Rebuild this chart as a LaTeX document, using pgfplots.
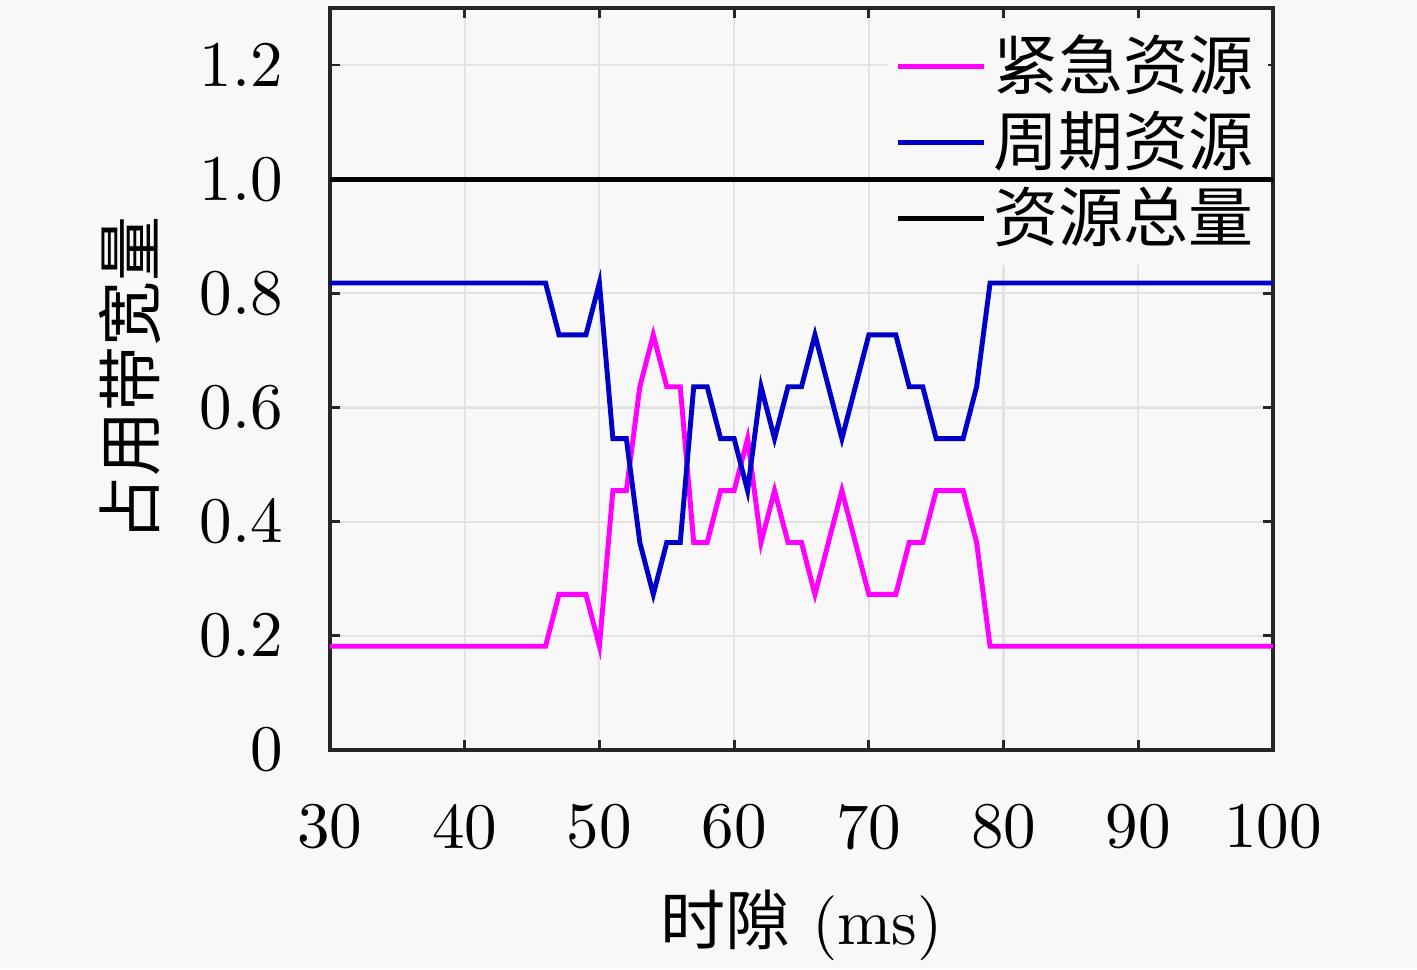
\documentclass[border=0pt]{standalone}
\usepackage{fontspec}
\usepackage{pgfplots}
\usepackage{pgfplotstable}
\pgfplotsset{compat=1.18}
\setmainfont{lmroman10-regular.otf}
\newfontfamily\cjk{Noto Sans CJK SC}
\definecolor{bg}{RGB}{248,248,248}
\definecolor{myblue}{RGB}{0,0,200}
\definecolor{mypink}{RGB}{255,0,255}
\definecolor{framec}{RGB}{38,38,38}

\pgfplotstableread{
x u p
30 0.1818 0.8182
31 0.1818 0.8182
32 0.1818 0.8182
33 0.1818 0.8182
34 0.1818 0.8182
35 0.1818 0.8182
36 0.1818 0.8182
37 0.1818 0.8182
38 0.1818 0.8182
39 0.1818 0.8182
40 0.1818 0.8182
41 0.1818 0.8182
42 0.1818 0.8182
43 0.1818 0.8182
44 0.1818 0.8182
45 0.1818 0.8182
46 0.1818 0.8182
47 0.2727 0.7273
48 0.2727 0.7273
49 0.2727 0.7273
50 0.1818 0.8182
51 0.4545 0.5455
52 0.4545 0.5455
53 0.6364 0.3636
54 0.7273 0.2727
55 0.6364 0.3636
56 0.6364 0.3636
57 0.3636 0.6364
58 0.3636 0.6364
59 0.4545 0.5455
60 0.4545 0.5455
61 0.5455 0.4545
62 0.3636 0.6364
63 0.4545 0.5455
64 0.3636 0.6364
65 0.3636 0.6364
66 0.2727 0.7273
67 0.3636 0.6364
68 0.4545 0.5455
69 0.3636 0.6364
70 0.2727 0.7273
71 0.2727 0.7273
72 0.2727 0.7273
73 0.3636 0.6364
74 0.3636 0.6364
75 0.4545 0.5455
76 0.4545 0.5455
77 0.4545 0.5455
78 0.3636 0.6364
79 0.1818 0.8182
80 0.1818 0.8182
85 0.1818 0.8182
90 0.1818 0.8182
95 0.1818 0.8182
100 0.1818 0.8182
}\datatable

\begin{document}
\fontsize{18.5}{22}\selectfont
\begin{tikzpicture}
\path[use as bounding box, fill=bg] (-3.30,-2.19) rectangle (10.87,7.50);
\begin{axis}[
  at={(0,0)}, anchor=south west, scale only axis,
  width=9.43cm, height=7.42cm,
  xmin=30, xmax=100, ymin=0, ymax=1.3,
  /pgf/number format/assume math mode=true,
  xtick={30,40,50,60,70,80,90,100},
  ytick={0,0.2,0.4,0.6,0.8,1.0,1.2},
  yticklabels={0,0.2,0.4,0.6,0.8,1.0,1.2},
  tick align=inside, major tick length=0.1cm,
  axis line style={framec, line width=1pt},
  every tick/.style={framec, line width=0.8pt},
  grid=major, grid style={gray!22, line width=0.6pt},
  xticklabel style={yshift=-0.32cm},
  yticklabel style={xshift=-0.25cm},
  xlabel={{\cjk 时隙} (ms)},
  ylabel={\cjk 占用带宽量},
  xlabel style={at={(0.5,-0.236)}, anchor=center},
  ylabel style={at={(-0.212,0.5)}, anchor=center},
  legend style={at={(0.995,0.984)}, anchor=north east, draw=none, fill=bg,
    font=\cjk, row sep=-0.7pt, inner sep=2pt},
  legend cell align=left,
  legend image code/.code={\draw[#1] (0cm,0cm) -- (0.86cm,0cm);},
]
\addlegendimage{mypink, line width=1.4pt}
\addlegendentry{紧急资源}
\addlegendimage{myblue, line width=1.4pt}
\addlegendentry{周期资源}
\addlegendimage{black, line width=1.4pt}
\addlegendentry{资源总量}
\end{axis}
\begin{axis}[
  at={(0,0)}, anchor=south west, scale only axis,
  width=9.43cm, height=7.42cm,
  xmin=30, xmax=100, ymin=0, ymax=1.3, hide axis,
]
\addplot[mypink, line width=1.4pt] table[x=x, y=u] {\datatable};
\addplot[myblue, line width=1.4pt] table[x=x, y=p] {\datatable};
\addplot[black, line width=1.4pt] coordinates {(30,1) (100,1)};
\end{axis}
\end{tikzpicture}
\end{document}
